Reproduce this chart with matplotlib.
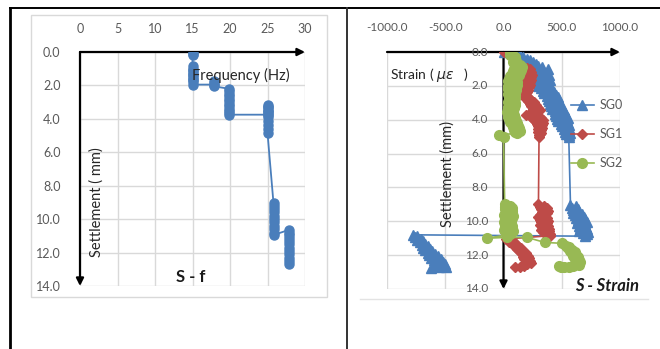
import matplotlib
matplotlib.use('Agg')
import matplotlib.pyplot as plt
import matplotlib.transforms as mtransforms
from matplotlib.lines import Line2D
from matplotlib.patches import Rectangle

plt.rcParams['font.family'] = ['Lato', 'DejaVu Sans']

# S - f : frequency (Hz) against settlement (mm)
freq = [15.0, 15.0, 15.0, 15.0, 15.0, 15.0, 15.0, 15.0, 15.0, 15.0, 15.0, 15.0, 15.0, 15.0,
        17.8, 17.8, 17.8, 17.8,
        19.9, 19.9, 19.9, 19.9, 19.9, 19.9, 19.9, 19.9, 19.9, 19.9, 19.9, 19.9,
        25.0, 25.0, 25.0, 25.0, 25.0, 25.0, 25.0, 25.0, 25.0, 25.0, 25.0, 25.0, 25.0,
        25.8, 25.8, 25.8, 25.8, 25.8, 25.8, 25.8, 25.8, 25.8, 25.8, 25.8,
        27.8, 27.8, 27.8, 27.8, 27.8, 27.8, 27.8, 27.8, 27.8, 27.8, 27.8, 27.8]
settle_f = [0.0, 0.1, 0.2, 0.85, 1.0, 1.1, 1.2, 1.3, 1.4, 1.5, 1.6, 1.7, 1.8, 1.95,
            1.95, 1.85, 1.75, 2.05,
            2.2, 2.35, 2.5, 2.65, 2.8, 2.95, 3.1, 3.25, 3.4, 3.55, 3.65, 3.75,
            3.75, 3.6, 3.45, 3.3, 3.15, 3.3, 3.5, 3.7, 3.9, 4.1, 4.35, 4.6, 4.85,
            9.05, 9.2, 9.4, 9.6, 9.8, 10.0, 10.2, 10.4, 10.6, 10.8, 10.95,
            10.65, 10.8, 10.95, 11.1, 11.3, 11.5, 11.7, 11.9, 12.1, 12.3, 12.5, 12.7]

# S - Strain : three strain gauges (micro-strain) against settlement (mm)
sg0_strain = [0, 70, 110, 140, 170, 200, 230, 250, 280, 300, 330,
              260, 380, 290, 350, 270, 390, 300, 370, 280, 400, 310,
              380, 290, 390, 300, 410, 320, 400, 340, 430, 350, 450,
              370, 470, 380, 480, 390, 470, 400, 490, 410, 500, 420,
              520, 440, 530, 440, 540, 450, 550, 460, 545, 470, 555,
              490, 560, 500, 560, 520, 565, 530, 570, 540, 565, 560,
              575, 620, 585, 640, 595, 650, 600, 670, 610, 690, 620, 700, 640,
              715, 630, 700, 650, 710, 660, 720, 650, 725, 680, 720, 700,
              -775, -740, -760, -710, -740, -690, -720, -670, -700, -650, -690, -630, -670, -610,
              -650, -590, -640, -560, -620, -540, -600, -520, -580, -500, -560, -490, -550, -620]
sg0_settle = [0.0, 0.05, 0.12, 0.2, 0.3, 0.4, 0.5, 0.6, 0.7, 0.8, 0.88,
              0.95, 1.02, 1.1, 1.18, 1.25, 1.33, 1.4, 1.48, 1.55, 1.63, 1.7,
              1.78, 1.85, 1.93, 2.0, 2.08, 2.15, 2.23, 2.3, 2.38, 2.45, 2.53,
              2.6, 2.68, 2.75, 2.83, 2.9, 2.98, 3.05, 3.13, 3.2, 3.28, 3.35,
              3.43, 3.5, 3.58, 3.65, 3.73, 3.8, 3.88, 3.95, 4.03, 4.1, 4.18,
              4.25, 4.33, 4.4, 4.48, 4.55, 4.63, 4.7, 4.78, 4.85, 4.93, 5.0,
              9.05, 9.12, 9.2, 9.28, 9.35, 9.43, 9.5, 9.58, 9.65, 9.73, 9.8, 9.88, 9.95,
              10.03, 10.1, 10.18, 10.25, 10.33, 10.4, 10.48, 10.55, 10.63, 10.7, 10.78, 10.88,
              10.8, 10.88, 10.95, 11.03, 11.1, 11.18, 11.25, 11.33, 11.4, 11.48, 11.55, 11.63, 11.7, 11.78,
              11.85, 11.93, 12.0, 12.08, 12.15, 12.23, 12.3, 12.38, 12.45, 12.53, 12.6, 12.68, 12.72, 12.75]

sg1_strain = [0, 200, 230, 175, 240, 185, 245, 180, 240, 175,
              235, 170, 230, 165, 225, 160, 220, 165, 210, 160,
              200, 165, 190, 175, 210, 190, 240, 210, 260, 225,
              280, 240, 300, 250, 310, 260, 290, 220, 190, 230,
              320, 250, 340, 270, 335, 290, 330, 295, 330, 300,
              325, 300, 320, 310, 305, 305,
              300, 350, 310, 370, 320, 380, 330, 370, 310, 360, 300, 370, 310,
              380, 320, 370, 310, 380, 330, 390, 320, 390, 340, 400, 400,
              20, 70, 50, 100, 80, 120, 100, 150, 120, 170, 140, 190,
              160, 210, 170, 220, 180, 230, 190, 240, 200, 180, 140, 100]
sg1_settle = [0.0, 0.95, 1.02, 1.1, 1.18, 1.25, 1.33, 1.4, 1.48, 1.55,
              1.63, 1.7, 1.78, 1.85, 1.93, 2.0, 2.08, 2.15, 2.23, 2.3,
              2.38, 2.45, 2.53, 2.6, 2.68, 2.75, 2.83, 2.9, 2.98, 3.05,
              3.13, 3.2, 3.28, 3.35, 3.43, 3.5, 3.58, 3.65, 3.73, 3.8,
              3.88, 3.95, 4.03, 4.1, 4.18, 4.25, 4.33, 4.4, 4.48, 4.55,
              4.63, 4.7, 4.78, 4.85, 4.93, 5.0,
              9.0, 9.08, 9.15, 9.23, 9.3, 9.38, 9.45, 9.53, 9.6, 9.68, 9.75, 9.83, 9.9,
              9.98, 10.05, 10.13, 10.2, 10.28, 10.35, 10.43, 10.5, 10.58, 10.65, 10.73, 10.85,
              11.05, 11.12, 11.2, 11.28, 11.35, 11.43, 11.5, 11.58, 11.65, 11.73, 11.8, 11.88,
              11.95, 12.03, 12.1, 12.18, 12.25, 12.33, 12.4, 12.48, 12.55, 12.62, 12.68, 12.72]

sg2_strain = [55, 65, 60, 80, 95, 100, 90, 110, 85, 120,
              140, 100, 155, 90, 150, 80, 140, 70, 130, 60,
              120, 50, 110, 40, 115, 45, 120, 35, 110, 40,
              105, 45, 100, 40, 95, 50, 100, 45, 90, 40,
              100, 50, 95, 40, 90, 35, 85, 30, 80, 35,
              90, 40, 100, 50, 110, 60, 115, 70, 125, 80,
              130, 90, 140, 100, 120, -40, 0,
              10, 60, 15, 70, 10, 75, 20, 70, 5, 80, 15, 70, 10,
              65, 0, 60, 10, 75, 15, 70, 5, 80, 20, 60, 30,
              -140, 30, 200, 355, 500, 540, 560, 550, 590, 570, 610, 590, 620,
              600, 640, 610, 650, 620, 655, 630, 650, 600, 560, 520, 490, 480]
sg2_settle = [0.0, 0.08, 0.15, 0.23, 0.3, 0.38, 0.45, 0.53, 0.6, 0.68,
              0.75, 0.83, 0.9, 0.98, 1.05, 1.13, 1.2, 1.28, 1.35, 1.43,
              1.5, 1.58, 1.65, 1.73, 1.8, 1.88, 1.95, 2.03, 2.1, 2.18,
              2.25, 2.33, 2.4, 2.48, 2.55, 2.63, 2.7, 2.78, 2.85, 2.93,
              3.0, 3.08, 3.15, 3.23, 3.3, 3.38, 3.45, 3.53, 3.6, 3.68,
              3.75, 3.83, 3.9, 3.98, 4.05, 4.13, 4.2, 4.28, 4.35, 4.43,
              4.5, 4.58, 4.65, 4.73, 4.8, 4.9, 5.0,
              9.0, 9.08, 9.15, 9.23, 9.3, 9.38, 9.45, 9.53, 9.6, 9.68, 9.75, 9.83, 9.9,
              9.98, 10.05, 10.13, 10.2, 10.28, 10.35, 10.43, 10.5, 10.58, 10.65, 10.73, 10.8,
              11.0, 10.95, 10.95, 11.25, 11.3, 11.45, 11.52, 11.6, 11.68, 11.75, 11.83, 11.9, 11.98,
              12.05, 12.13, 12.2, 12.28, 12.35, 12.43, 12.5, 12.58, 12.65, 12.7, 12.7, 12.68, 12.65]

f_ticks = [0, 5, 10, 15, 20, 25, 30]
strain_ticks = [-1000, -500, 0, 500, 1000]
s_ticks = [0, 2, 4, 6, 8, 10, 12, 14]

BLUE = '#4a7ebb'
RED = '#be4b48'
GREEN = '#98b954'
GRID = '#d9d9d9'
TXT = '#595959'

W, H = 660, 349
fig = plt.figure(figsize=(W / 100, H / 100), dpi=100)


def px(x0, y0, x1, y1):
    return [x0 / W, 1 - y1 / H, (x1 - x0) / W, (y1 - y0) / H]


# page frame
fig.add_artist(Line2D([10 / W, 10 / W], [0, 1 - 8 / H], color='black', lw=2.0))
fig.add_artist(Line2D([10 / W, 1], [1 - 8 / H, 1 - 8 / H], color='black', lw=1.4))
fig.add_artist(Line2D([347 / W, 347 / W], [0, 1 - 8 / H], color='#333333', lw=1.4))
fig.add_artist(Rectangle((31 / W, 1 - 297 / H), (327 - 31) / W, (297 - 15) / H,
                         fill=False, ec=GRID, lw=1.0))
fig.add_artist(Line2D([360 / W, 648 / W], [1 - 299 / H, 1 - 299 / H], color='#e3e3e3', lw=1.0))

arrow = dict(arrowstyle='-|>', color='black', lw=1.6, mutation_scale=11,
             shrinkA=0, shrinkB=0)

# ---- left: S - f ----
ax1 = fig.add_axes(px(80, 52, 305, 286))
ax1.plot(freq, settle_f, color=BLUE, lw=1.3, marker='o', ms=6.5, mec=BLUE, mfc=BLUE,
         zorder=4)
ax1.set_xlim(0, 30)
ax1.set_ylim(14, 0)
ax1.set_xticks(f_ticks)
ax1.set_yticks(s_ticks)
ax1.set_yticklabels(['%.1f' % v for v in s_ticks])
ax1.xaxis.tick_top()
ax1.tick_params(length=0, labelsize=9, labelcolor=TXT)
ax1.tick_params(axis='x', pad=12)
ax1.tick_params(axis='y', pad=14)
ax1.grid(color=GRID, lw=1.0)
for sp in ax1.spines.values():
    sp.set_visible(False)
ax1.annotate('', xy=(30, 0), xytext=(0, 0), arrowprops=arrow, zorder=3)
ax1.annotate('', xy=(0, 14), xytext=(0, 0), arrowprops=arrow, zorder=3)
ax1.text(0.5, 0.90, 'Frequency (Hz)', transform=ax1.transAxes, fontsize=10.5,
         color='#262626', ha='left', va='center', zorder=6)
ax1.text(0.075, 0.36, 'Settlement ( mm)', transform=ax1.transAxes, fontsize=10.5,
         color='#262626', rotation=90, ha='center', va='center')
ax1.text(0.49, 0.04, 'S - f', transform=ax1.transAxes, fontsize=12, fontweight='bold',
         color='#1a1a1a', ha='center', va='center')

# ---- right: S - Strain ----
ax2 = fig.add_axes(px(387, 52, 620, 289))
ax2.plot(sg0_strain, sg0_settle, color=BLUE, lw=1.2, marker='^', ms=6.5, mec=BLUE, mfc=BLUE,
         label='SG0', zorder=4)
ax2.plot(sg1_strain, sg1_settle, color=RED, lw=1.2, marker='D', ms=5, mec=RED, mfc=RED,
         label='SG1', zorder=4)
ax2.plot(sg2_strain, sg2_settle, color=GREEN, lw=1.2, marker='o', ms=7, mec=GREEN, mfc=GREEN,
         label='SG2', zorder=5)
ax2.set_xlim(-1000, 1000)
ax2.set_ylim(14, 0)
ax2.set_xticks(strain_ticks)
ax2.set_xticklabels(['%.1f' % v for v in strain_ticks])
ax2.set_yticks(s_ticks)
ax2.set_yticklabels([])
ax2.xaxis.tick_top()
ax2.tick_params(length=0, labelsize=8.5, labelcolor=TXT)
ax2.tick_params(axis='x', pad=14)
ax2.grid(color=GRID, lw=1.0)
for sp in ax2.spines.values():
    sp.set_visible(False)
ax2.annotate('', xy=(1000, 0), xytext=(-1000, 0), arrowprops=arrow, zorder=3)
ax2.annotate('', xy=(0, 14), xytext=(0, 0), arrowprops=arrow, zorder=3)
# settlement labels sit on the vertical axis crossing at zero strain
lab_tr = mtransforms.offset_copy(ax2.transData, fig=fig, x=-11, y=0, units='points')
for v in s_ticks:
    ax2.text(0, v, '%.1f' % v, transform=lab_tr, fontsize=8.5, color=TXT,
             ha='right', va='center', zorder=3)
ax2.text(0.013, 0.905, r'Strain ( $\mu\varepsilon$   )', transform=ax2.transAxes,
         fontsize=10, color='#262626', ha='left', va='center', zorder=6)
ax2.text(0.258, 0.485, 'Settlement (mm)', transform=ax2.transAxes, fontsize=10.5,
         color='#262626', rotation=90, ha='center', va='center', zorder=6)
ax2.text(0.945, 0.012, 'S - Strain', transform=ax2.transAxes, fontsize=12,
         fontweight='bold', fontstyle='italic', color='#1a1a1a', ha='center', va='center')
ax2.legend(loc='upper left', bbox_to_anchor=(0.79, 0.80), frameon=False, fontsize=9,
           borderpad=0, borderaxespad=0, handlelength=1.8, handletextpad=0.5,
           labelspacing=1.35, labelcolor=TXT)

fig.savefig('out.png', dpi=100)
